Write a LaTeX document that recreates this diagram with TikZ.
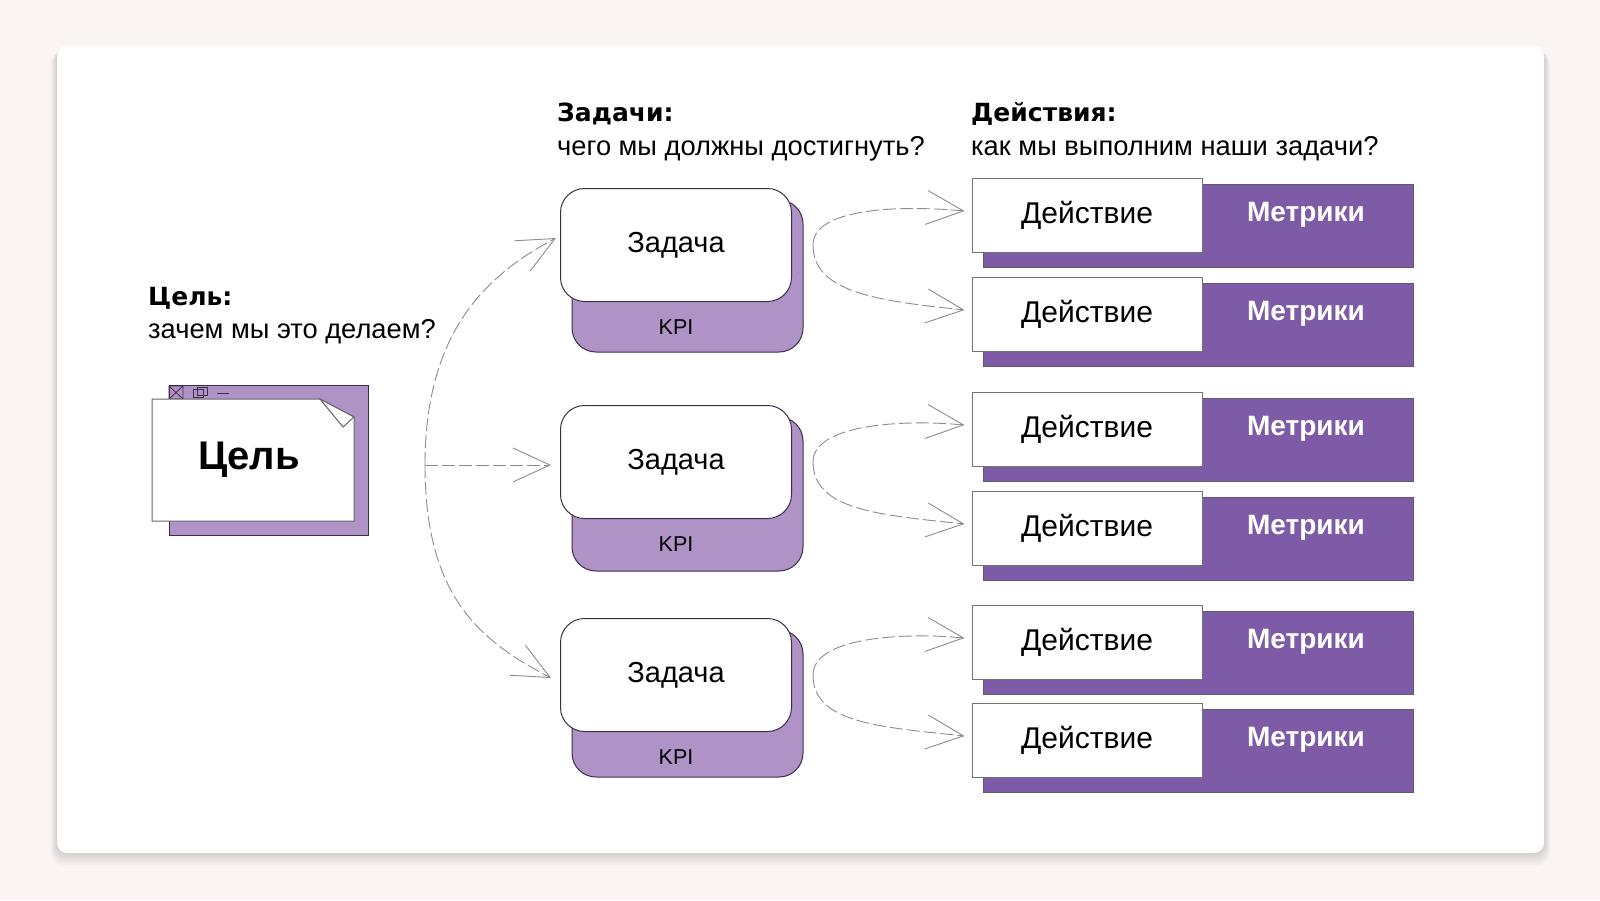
\documentclass[tikz,border=0pt]{standalone}
\usepackage{fontspec}
\setmainfont{Liberation Sans}
\newfontfamily\headfont{DejaVu Sans}
\usetikzlibrary{arrows.meta}

\definecolor{paper}{HTML}{FAF4F4}
\definecolor{lilac}{HTML}{B093C6}
\definecolor{plum}{HTML}{7D5BA6}
\definecolor{edge}{HTML}{3B2E4A}
\definecolor{flowgray}{HTML}{8C8C8C}

\tikzset{
    heading/.style={anchor=base west, inner sep=0pt, font=\headfont\bfseries\fontsize{25}{30}\selectfont},
    subline/.style={anchor=base west, inner sep=0pt, font=\fontsize{27.3}{32}\selectfont},
    taskfront/.style={draw=edge, fill=white, line width=1pt, rounded corners=24pt,
        minimum width=231pt, minimum height=113pt, font=\fontsize{29}{34}\selectfont},
    taskback/.style={draw=edge, fill=lilac, line width=1pt, rounded corners=24pt},
    kpi/.style={font=\fontsize{21.5}{26}\selectfont},
    actbox/.style={draw=black!55, fill=white, line width=1pt,
        minimum width=230pt, minimum height=74pt, font=\fontsize{30}{35}\selectfont},
    metricback/.style={draw=edge!80, fill=plum, line width=1pt},
    metric/.style={text=white, font=\bfseries\fontsize{28}{33}\selectfont},
    flow/.style={draw=flowgray, line width=0.9pt, dash pattern=on 13pt off 4pt,
        -{Straight Barb[length=37pt,width=34pt,line width=0.9pt]}}
}

\begin{document}
\begin{tikzpicture}[x=1pt,y=-1pt]
    % page and card
    \fill[paper] (0,0) rectangle (1600,900);
    \useasboundingbox (0,0) rectangle (1600,900);
    \foreach \s in {1,...,6}
        \fill[black, opacity=0.025, rounded corners=12pt] (57-\s,46+\s) rectangle (1544+\s,853+2*\s);
    \fill[white, rounded corners=10pt] (57,46) rectangle (1544,853);

    % headings
    \node[heading] (goalhead) at (148,305) {Цель:};
    \node[subline] at (148,338) {зачем мы это делаем?};
    \node[heading] (taskhead) at (557,121) {Задачи:};
    \node[subline] at (557,155) {чего мы должны достигнуть?};
    \node[heading] (acthead) at (971,121) {Действия:};
    \node[subline] at (971,155) {как мы выполним наши задачи?};

    % goal window
    \begin{scope}
        \draw[edge, fill=lilac, line width=1pt] (169,385) rectangle (368,535);
        \draw[edge, line width=0.8pt] (169,386) rectangle (183,399) (169,386) -- (183,399) (183,386) -- (169,399);
        \draw[edge, line width=0.8pt] (193,389) rectangle (203,397) (197,387) rectangle (207,395);
        \draw[edge, line width=0.8pt] (217,393) -- (229,393);
        \draw[black!60, fill=white, line width=1pt] (152,399) -- (320,399) -- (354,417) -- (354,521) -- (152,521) -- cycle;
        \draw[black!60, fill=white, line width=1pt] (320,399) -- (354,417) -- (343,427) -- cycle;
        \node[font=\bfseries\fontsize{40}{46}\selectfont] (goal) at (249,460) {Цель};
    \end{scope}

    % tasks
    \foreach \n/\ty/\tb in {1/245/107, 2/462/109, 3/675/102} {
        \draw[taskback] (572,\ty-45) rectangle (803,\ty+\tb);
        \node[taskfront] (task\n) at (676,\ty) {Задача};
        \node[kpi] (kpi\n) at (676,\ty+82) {KPI};
    }

    % actions
    \foreach \n/\ay in {1/215, 2/314, 3/429, 4/528, 5/642, 6/740} {
        \draw[metricback] (983,\ay-31) rectangle (1413,\ay+52);
        \node[actbox] (act\n) at (1087,\ay) {Действие};
        \node[metric] (metric\n) at (1306,\ay) {Метрики};
    }

    % goal -> tasks
    \coordinate (split) at (425,465);
    \draw[flow] (split) .. controls +(0,-135) and +(-68,36) .. ([shift={(-4,-7)}]task1.west);
    \draw[flow, shorten >=9pt] (split) -- (split -| task2.west);
    \draw[flow] (split) .. controls +(0,135) and +(-68,-36) .. ([shift={(-9,3)}]task3.west);

    % tasks -> actions
    \foreach \t/\a/\b in {1/1/2, 2/3/4, 3/5/6} {
        \coordinate (loop\t) at ([xshift=21pt]task\t.east);
        \draw[flow] (loop\t) .. controls +(0,-37) and +(-65,-6) .. ([shift={(-7,-4)}]act\a.west);
        \draw[flow] (loop\t) .. controls +(0,48) and +(-85,-9) .. ([shift={(-7,-4)}]act\b.west);
    }
\end{tikzpicture}
\end{document}
